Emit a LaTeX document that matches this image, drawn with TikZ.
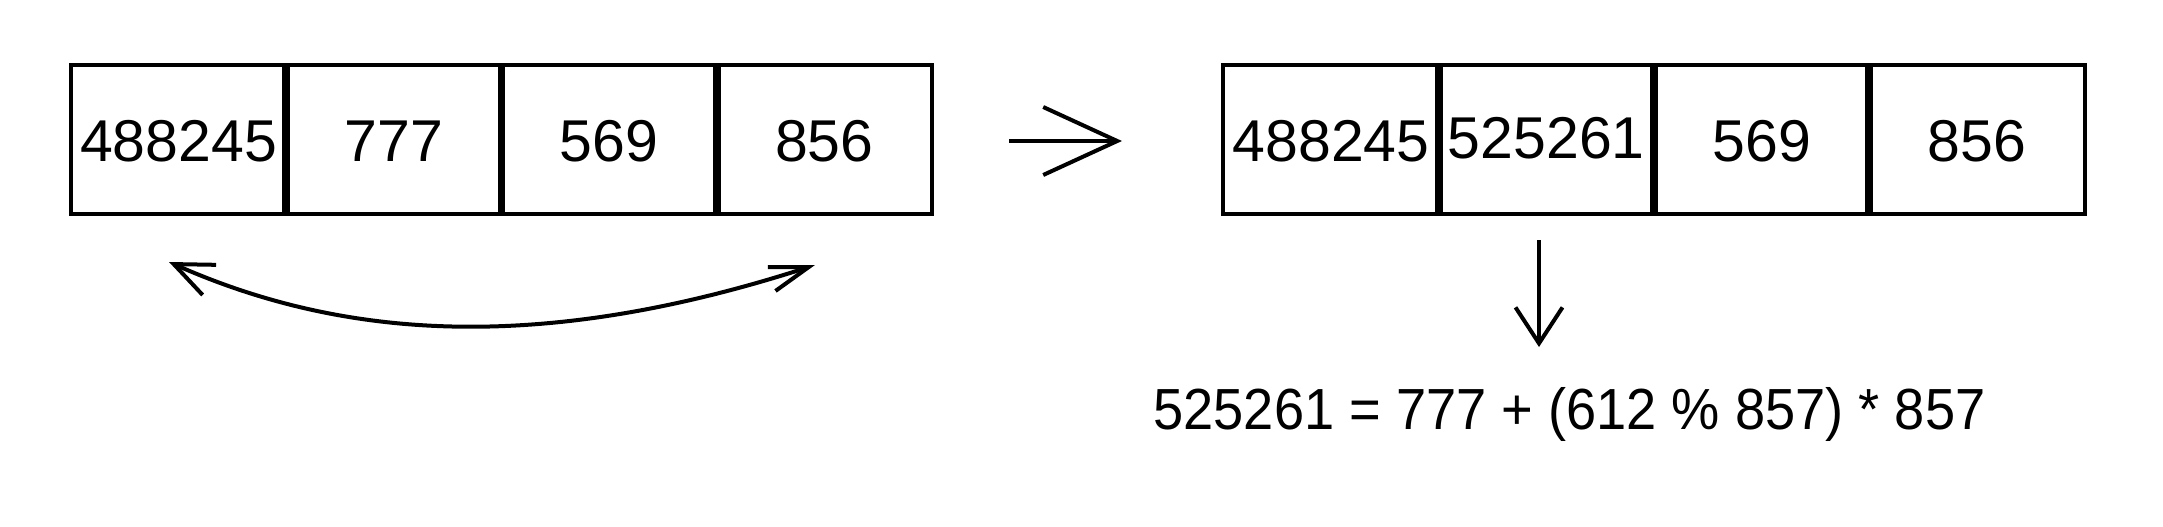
\documentclass[tikz,border=0pt]{standalone}
\usepackage{fontspec}
\setmainfont{Liberation Sans}
\newfontfamily\formulafont[FakeStretch=0.935]{Liberation Sans}
\usetikzlibrary{arrows.meta}
\begin{document}
\begin{tikzpicture}[x=0.5pt,y=-0.5pt,
  cell/.style={draw, line width=2pt, minimum width=107.625pt, minimum height=74.2pt,
    inner sep=0pt, outer sep=0pt},
  celltext/.style={inner sep=0pt, yshift=-1pt, font=\fontsize{29.5}{35}\selectfont},
  divider/.style={line width=3.9pt},
  conn/.style={line width=2pt},
  formula/.style={inner sep=0pt, font=\formulafont\fontsize{29}{35}\selectfont}]
\useasboundingbox (0,0) rectangle (2163,526);
% left array
\node[cell, label={[celltext]center:488245}] (l1) at (178.625,139.5) {};
\node[cell, label={[celltext]center:777}]    (l2) at (393.875,139.5) {};
\node[cell, label={[celltext]center:569}]    (l3) at (609.125,139.5) {};
\node[cell, label={[celltext]center:856}]    (l4) at (824.375,139.5) {};
\foreach \c in {l1,l2,l3} \draw[divider] (\c.north east) -- (\c.south east);
% right array
\node[cell, label={[celltext]center:488245}] (r1) at (1331.1,139.5) {};
\node[cell, label={[celltext, yshift=1.7pt]center:525261}] (r2) at (1546.4,139.5) {};
\node[cell, label={[celltext]center:569}]    (r3) at (1761.6,139.5) {};
\node[cell, label={[celltext]center:856}]    (r4) at (1976.9,139.5) {};
\foreach \c in {r1,r2,r3} \draw[divider] (\c.north east) -- (\c.south east);
% formula
\node[formula, anchor=base] (f) at (1569.5,429.5) {525261 = 777 + (612 \% 857) * 857};
% horizontal arrow
\coordinate (h1) at (1009,141);
\coordinate (h2) at (1122,141);
\draw[conn, -{Straight Barb[length=37pt,width=34pt]}] (h1) -- (h2);
% swap arrow
\coordinate (sL) at (169,262);
\coordinate (sR) at (815,265);
\draw[conn, {Straight Barb[length=19.5pt,width=16.5pt]}-{Straight Barb[length=19.5pt,width=12.5pt]}]
  (sL) .. controls (338,337) and (534,356) .. (sR);
% down arrow
\coordinate (d1) at (1539,240);
\coordinate (d2) at (1539,347);
\draw[conn, -{Straight Barb[length=18pt,width=23.5pt]}] (d1) -- (d2);
\end{tikzpicture}
\end{document}
